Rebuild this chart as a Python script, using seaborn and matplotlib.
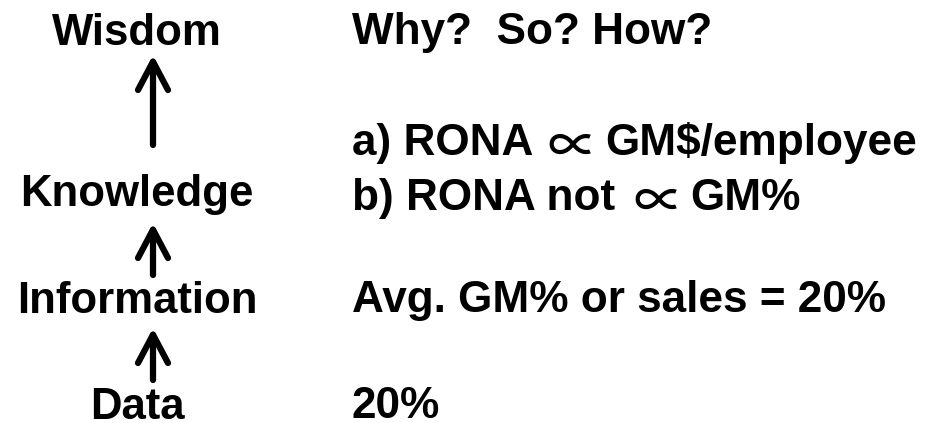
import matplotlib
matplotlib.use("Agg")
import matplotlib.pyplot as plt
import seaborn as sns

sns.set_theme(style="white")
plt.rcParams['font.family'] = ['Liberation Sans', 'DejaVu Sans']

levels = ["Wisdom", "Knowledge", "Information", "Data"]
level_baselines = [45, 206, 313, 419]

# right-hand notes, split into (text before ∝, text after ∝)
notes = ["Why?  So? How?", "Avg. GM% or sales = 20%", "20%"]
note_baselines = [44, 312, 418]
prop_lines_left = ["a) RONA", "b) RONA not"]
prop_symbol = "\u221d"
prop_lines_right = ["GM$/employee", "GM%"]
prop_baselines = [155, 210]
prop_symbol_x = [572, 658]
prop_right_x = [605, 690]

# arrows: (tail y, tip y)
arrow_tails = [145, 275, 380]
arrow_tips = [55, 223, 328]

W, H = 929, 423
fig = plt.figure(figsize=(W / 100, H / 100), dpi=100)
ax = fig.add_axes([0, 0, 1, 1])
ax.set_xlim(0, W)
ax.set_ylim(H, 0)
ax.axis("off")

fs_left = 31.5
fs_right = 31.8
for name, yb in zip(levels, level_baselines):
    ax.text(137, yb, name, ha="center", va="baseline", fontsize=fs_left,
            fontweight="bold", color="black")

for note, yb in zip(notes, note_baselines):
    ax.text(352, yb, note, ha="left", va="baseline", fontsize=fs_right,
            fontweight="bold", color="black")

for left, right, yb, xs, xr in zip(prop_lines_left, prop_lines_right,
                                   prop_baselines, prop_symbol_x, prop_right_x):
    ax.text(352, yb, left, ha="left", va="baseline", fontsize=fs_right,
            fontweight="bold", color="black")
    ax.text(xs, yb - 6, prop_symbol, ha="center", va="center",
            fontsize=36, color="black",
            family=["Noto Sans CJK JP", "DejaVu Sans"], fontweight="medium")
    ax.text(xr, yb, right, ha="left", va="baseline", fontsize=fs_right,
            fontweight="bold", color="black")

for t0, t1 in zip(arrow_tails, arrow_tips):
    ax.annotate("", xy=(153, t1), xytext=(153, t0),
                arrowprops=dict(arrowstyle="->,head_length=1.7,head_width=0.9",
                                lw=4.5, color="black", shrinkA=0, shrinkB=0,
                                capstyle="round", joinstyle="round"))

fig.savefig("out.png", dpi=100)
